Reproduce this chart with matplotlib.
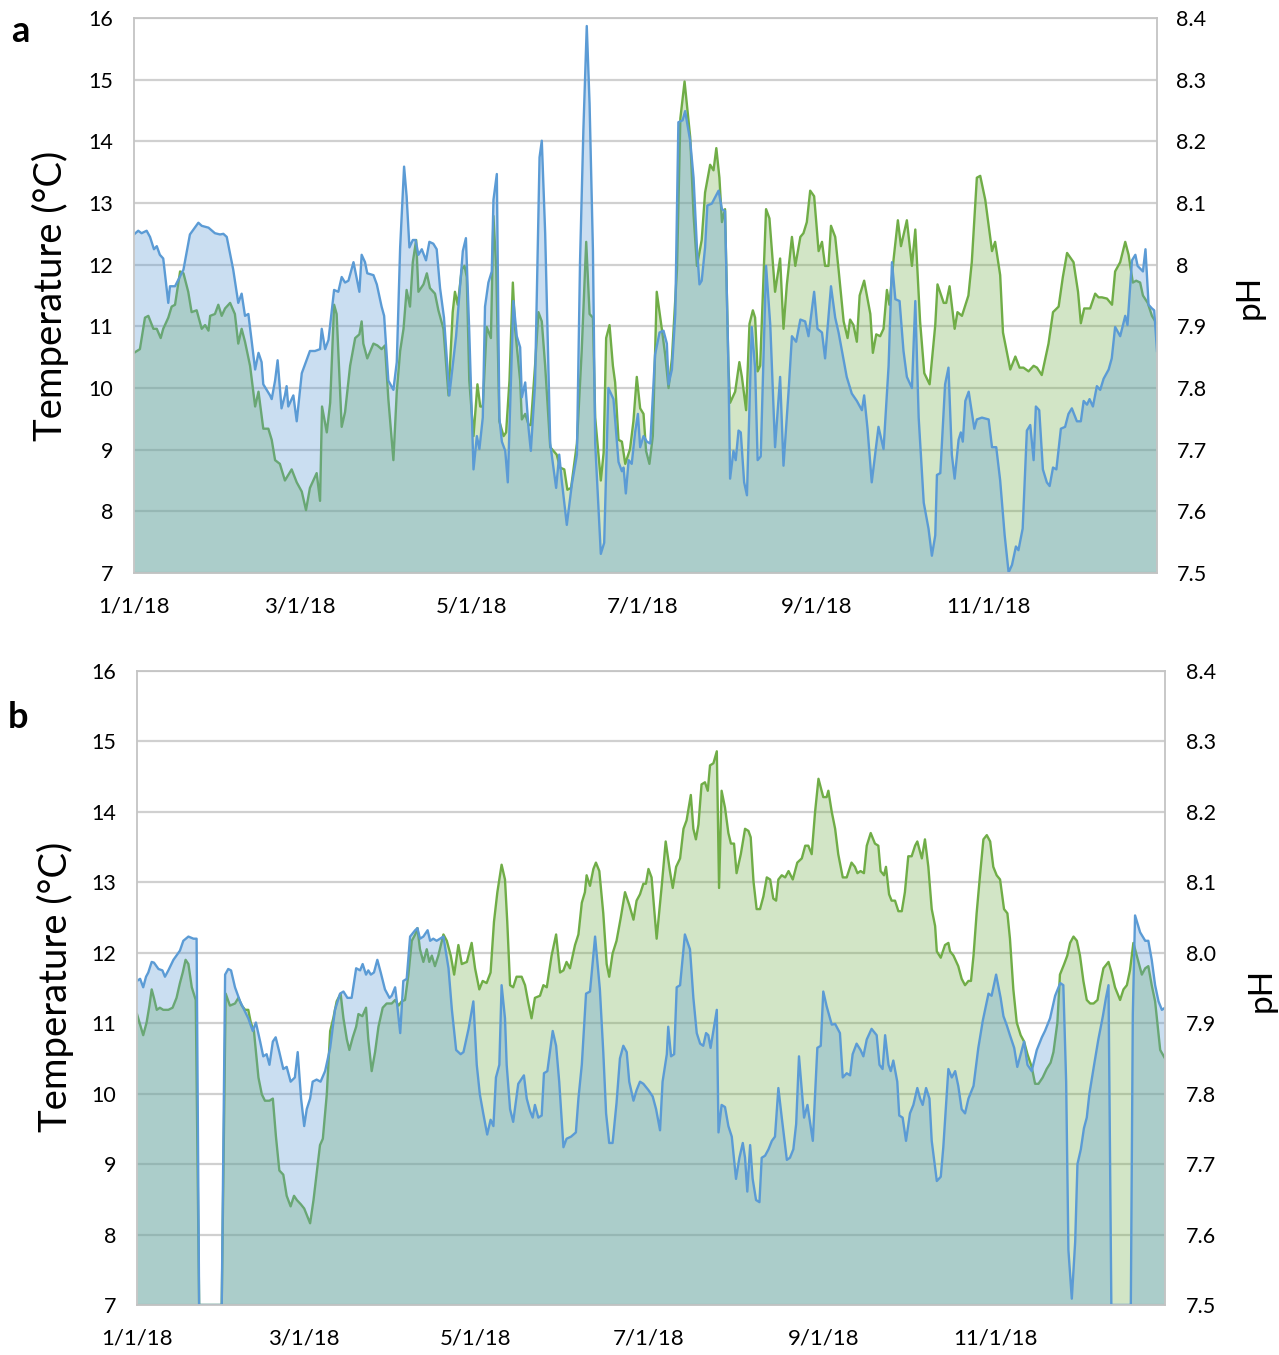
import numpy as np
import matplotlib
matplotlib.use('Agg')
import matplotlib.pyplot as plt

plt.rcParams['font.family'] = ['Lato', 'DejaVu Sans']

BLUE = '#5b9bd5'
GREEN = '#70ad47'

# x axis: day of year 2018
tick_days = [0, 59, 120, 181, 243, 304]
tick_labels = ['1/1/18', '3/1/18', '5/1/18', '7/1/18', '9/1/18', '11/1/18']
temp_ticks = list(range(7, 17))
ph_ticks = [7.5, 7.6, 7.7, 7.8, 7.9, 8.0, 8.1, 8.2, 8.3, 8.4]
ph_labels_a = ['7.5', '7.6', '7.7', '7.8', '7.9', '8', '8.1', '8.2', '8.3', '8.4']
ph_labels_b = ['7.5', '7.6', '7.7', '7.8', '7.9', '8.0', '8.1', '8.2', '8.3', '8.4']

# ---- panel a: temperature ----
a_temp_day = [
    0, 1.5, 2.7, 4.5, 5.7, 7.1, 8.1, 9.2, 10.4, 12.2,
    12.8, 14.6, 17.6, 19.9, 22.9, 24.1, 26.5, 28.8, 30.6, 31.8,
    33, 35.3, 37.1, 38.3, 39.5, 40.7, 43.1, 44.3, 45.4, 46,
    48.4, 49, 50.2, 51.1, 52.5, 53.7, 54.3, 54.9, 56.7, 57.9,
    59.7, 62.6, 64.4, 66.2, 66.8, 68, 69.2, 71.2, 72.7, 73.9,
    75.1, 76.3, 78.1, 80.2, 81, 82.2, 83, 85.2, 86.4, 88.1,
    89, 90.5, 92.3, 93.5, 94.7, 96.1, 97, 98, 99.2, 100.2,
    101.2, 102.4, 103.9, 105.1, 106.5, 107.7, 108.9, 110.3, 112.2, 114.6,
    117, 118.1, 119.3, 120.8, 122, 122.9, 124.1, 124.9, 126.1, 127.3,
    127.9, 129.1, 130, 130.9, 132.1, 133, 134.1, 135, 136.2, 137.4,
    138, 139.2, 140.4, 141.2, 142.7, 144.3, 145.1, 146.3, 148.1, 150.2,
    151.3, 152.2, 154, 155.8, 157.6, 158.7, 159.9, 161.1, 162.1, 163.3,
    164.1, 166.1, 167.3, 168.8, 170.6, 172.4, 173.6, 174.2, 175, 176,
    177.1, 178.3, 179.3, 180.1, 181.3, 182.5, 183.7, 185.4, 187, 188.4,
    189.6, 190.2, 191.4, 192.6, 193.7, 195.2, 196.1, 197.9, 199.1, 200.3,
    201.2, 202, 203.2, 204, 205.6, 208, 209.2, 210.3, 211.5, 212.1,
    213.3, 214.1, 215.1, 215.9, 217.1, 218.1, 219.8, 221, 221.9, 223,
    224.9, 226.4, 228.1, 229.9, 231.1, 232.9, 234.1, 235.6, 237.1, 238.8,
    240, 242, 243.2, 244.8, 245.9, 247.1, 248, 249.5, 250.7, 251.9,
    253.6, 255.4, 257.2, 259, 259.8, 261, 262.5, 264.9, 266.7, 268.5,
    269.7, 270.9, 272.4, 273.8, 275, 276.8, 278, 279.2, 281, 282.7,
    283.9, 285.1, 285.7, 286.9, 288.6, 289.8, 291, 292, 293.4, 294.2,
    294.9, 295.8, 297, 299, 299.9, 301.7, 304.1, 305.3, 306.8, 308.2,
    309.8, 311.2, 312.4, 313.8, 314.7, 316.2, 317.7, 318.9, 320.1, 320.9,
    322.1, 323.4, 324.8, 325.8, 327, 328.2, 329.8, 331.3, 332.5, 333.7,
    335.5, 336.9, 337.9, 339.1, 340, 341.2, 342.6, 343.8, 345, 346.8,
    347.9, 349.1, 350.9, 352.7, 353.5, 355.1, 356.3, 357.1, 359, 359.9,
    361, 362.2, 363, 364,
]
a_temp = [
    12.49, 12.55, 12.51, 12.55, 12.45, 12.25, 12.3, 12.16, 12.1, 11.38,
    11.65, 11.65, 11.92, 12.49, 12.68, 12.63, 12.6, 12.51, 12.49, 12.5,
    12.45, 11.92, 11.38, 11.53, 11.17, 11.2, 10.3, 10.57, 10.42, 10.06,
    9.88, 9.82, 10.12, 10.45, 9.67, 9.88, 10.03, 9.7, 9.88, 9.46,
    10.24, 10.6, 10.6, 10.63, 10.96, 10.63, 10.78, 11.59, 11.56, 11.8,
    11.71, 11.74, 12.04, 11.56, 12.16, 12.04, 11.86, 11.83, 11.68, 11.32,
    11.17, 10.12, 9.97, 10.42, 12.28, 13.59, 13.11, 12.28, 12.4, 12.4,
    12.16, 12.25, 12.07, 12.37, 12.34, 12.25, 11.62, 11.14, 9.88, 10.84,
    12.22, 12.43, 10.9, 8.68, 9.22, 9.01, 9.52, 11.32, 11.71, 11.89,
    13.05, 13.47, 9.52, 9.13, 8.98, 8.47, 10.06, 11.41, 10.84, 10.66,
    9.85, 10.09, 9.34, 8.98, 10.06, 13.74, 14.01, 12.51, 9.1, 8.38,
    8.92, 8.5, 7.78, 8.44, 8.92, 12.04, 14.19, 15.87, 14.61, 12.22,
    9.1, 7.31, 7.49, 10.0, 9.82, 8.8, 8.65, 8.71, 8.29, 8.83,
    8.77, 9.28, 9.58, 9.04, 9.22, 9.13, 9.1, 10.54, 10.9, 10.93,
    10.72, 10.06, 10.3, 11.2, 14.31, 14.34, 14.49, 14.01, 13.41, 12.28,
    11.68, 11.74, 12.28, 12.96, 12.99, 13.2, 12.9, 12.87, 10.36, 8.53,
    8.98, 8.83, 9.31, 9.28, 8.47, 8.26, 10.99, 10.33, 8.83, 8.89,
    11.98, 11.02, 9.04, 10.18, 8.74, 9.94, 10.84, 10.75, 11.11, 11.08,
    10.84, 11.56, 10.96, 10.9, 10.48, 11.14, 11.65, 11.14, 10.9, 10.6,
    10.18, 9.91, 9.79, 9.64, 9.88, 9.34, 8.47, 9.37, 9.01, 10.36,
    12.04, 11.44, 11.41, 10.6, 10.18, 10.0, 11.41, 9.52, 8.14, 7.72,
    7.28, 7.61, 8.59, 8.62, 10.06, 10.33, 8.92, 8.53, 9.16, 9.28,
    9.13, 9.79, 9.94, 9.34, 9.49, 9.52, 9.49, 9.04, 9.04, 8.5,
    7.61, 7.01, 7.13, 7.43, 7.37, 7.72, 9.31, 9.4, 8.83, 9.7,
    9.64, 8.68, 8.47, 8.41, 8.71, 8.68, 9.34, 9.37, 9.58, 9.67,
    9.46, 9.46, 9.79, 9.73, 9.82, 9.7, 10.03, 9.97, 10.15, 10.3,
    10.48, 10.99, 10.84, 11.17, 11.02, 12.07, 12.16, 11.98, 11.89, 12.25,
    11.35, 11.29, 11.26, 10.6,
]

# ---- panel a: pH ----
a_ph_day = [
    0, 2.1, 3.9, 5.1, 6.9, 8.1, 9.5, 10.4, 12.2, 13.4,
    14.6, 16.4, 17.6, 19.3, 20.5, 22.3, 24.1, 25.3, 26.5, 27.1,
    28.8, 30, 31.2, 32.4, 34.2, 35.9, 37.1, 38.3, 39.5, 41.3,
    43.1, 44.3, 46, 47.8, 49, 50.2, 51.9, 53.7, 56.1, 57.9,
    59.7, 61.2, 62.6, 65, 66.2, 66.9, 68.6, 69.8, 71.2, 72.1,
    73.9, 75.1, 76.9, 78.7, 80.2, 81, 81.6, 83, 85.2, 86.6,
    88.1, 89.3, 90.5, 92.3, 93.5, 94.7, 95.9, 97, 98.2, 99.2,
    100.4, 101.2, 103, 104.2, 105.3, 107.1, 108.3, 110.1, 111.9, 113.4,
    114.2, 115.2, 116.6, 117.6, 118.4, 119.3, 120.8, 122.2, 123.2, 124.1,
    125.5, 127, 127.9, 128.9, 130, 131.5, 132.4, 133.6, 134.8, 135.6,
    137.4, 138, 139.2, 140.4, 141.2, 142.7, 143.9, 145.1, 146.3, 148.1,
    150.4, 151.6, 153.1, 154.2, 155.5, 157.6, 159.3, 160.9, 162.1, 163.3,
    164.1, 166.1, 167.1, 168, 169.2, 170.4, 171.2, 172.4, 173.6, 174.8,
    176.5, 177.7, 178.9, 180.1, 181.3, 182.2, 183.4, 184.6, 186, 187.8,
    189, 190.2, 191.4, 193.2, 194.4, 195.9, 197.9, 199.1, 200.3, 202,
    203.2, 205, 206.2, 207.2, 208.3, 209.2, 210.3, 211.5, 212.1, 213.9,
    215.4, 216.3, 217.8, 219, 220.2, 221, 221.9, 222.8, 224.9, 226.1,
    228.1, 229.9, 231.1, 232.3, 234.1, 235.3, 237.1, 238.2, 239.4, 240.6,
    242, 243.6, 244.8, 245.9, 247.1, 248, 249.5, 250.7, 252.5, 253.9,
    254.8, 256, 257.2, 258.2, 259.8, 262, 262.9, 264.1, 265.5, 266.7,
    267.9, 268.8, 270.3, 271.8, 272.9, 275, 276.8, 278, 279.7, 281.2,
    283.1, 285.1, 285.9, 288.1, 289, 290.2, 292, 293, 294.6, 296.9,
    298.1, 299.9, 301.1, 302.9, 305.3, 306.4, 308.2, 309.2, 311.8, 313.6,
    315.1, 316.5, 318.3, 320.1, 321.3, 323, 325.4, 327, 329, 330.5,
    332, 334.3, 335.9, 336.9, 338.1, 340.2, 342, 343.2, 344.4, 346.2,
    348, 349.1, 350.9, 352.7, 353.9, 355.4, 356.6, 358, 359, 360.7,
    362.2, 363.4, 364,
]
a_ph = [
    7.857, 7.863, 7.914, 7.917, 7.896, 7.896, 7.881, 7.896, 7.914, 7.932,
    7.935, 7.989, 7.986, 7.956, 7.923, 7.926, 7.896, 7.902, 7.893, 7.917,
    7.92, 7.935, 7.917, 7.929, 7.938, 7.92, 7.872, 7.896, 7.875, 7.836,
    7.77, 7.794, 7.734, 7.734, 7.716, 7.683, 7.677, 7.65, 7.668, 7.647,
    7.632, 7.602, 7.638, 7.662, 7.617, 7.77, 7.728, 7.776, 7.935, 7.92,
    7.737, 7.761, 7.836, 7.881, 7.887, 7.908, 7.872, 7.848, 7.872, 7.869,
    7.863, 7.869, 7.782, 7.683, 7.794, 7.86, 7.896, 7.959, 7.932, 8.004,
    8.04, 7.956, 7.968, 7.986, 7.962, 7.953, 7.926, 7.896, 7.788, 7.923,
    7.956, 7.935, 7.992, 7.998, 7.98, 7.812, 7.722, 7.806, 7.77, 7.77,
    7.899, 7.881, 8.079, 7.992, 7.746, 7.722, 7.728, 7.812, 7.971, 7.896,
    7.812, 7.749, 7.758, 7.74, 7.74, 7.836, 7.923, 7.908, 7.836, 7.704,
    7.692, 7.671, 7.668, 7.635, 7.638, 7.71, 7.86, 8.037, 7.92, 7.914,
    7.752, 7.65, 7.695, 7.881, 7.902, 7.836, 7.809, 7.716, 7.713, 7.677,
    7.701, 7.746, 7.818, 7.767, 7.758, 7.698, 7.677, 7.722, 7.956, 7.896,
    7.854, 7.8, 7.848, 7.992, 8.237, 8.297, 8.207, 8.081, 7.998, 8.04,
    8.117, 8.162, 8.153, 8.189, 8.141, 8.069, 8.09, 7.836, 7.776, 7.794,
    7.842, 7.818, 7.764, 7.904, 7.926, 7.914, 7.827, 7.836, 8.09, 8.075,
    7.956, 8.01, 7.896, 7.968, 8.045, 7.998, 8.045, 8.051, 8.069, 8.12,
    8.111, 8.022, 8.037, 7.998, 7.998, 8.063, 8.045, 7.992, 7.908, 7.881,
    7.911, 7.902, 7.875, 7.95, 7.974, 7.92, 7.857, 7.887, 7.884, 7.896,
    7.959, 7.935, 8.01, 8.072, 8.03, 8.072, 7.998, 8.057, 7.908, 7.824,
    7.806, 7.902, 7.968, 7.938, 7.938, 7.965, 7.896, 7.923, 7.917, 7.95,
    8.004, 8.141, 8.144, 8.105, 8.022, 8.037, 7.983, 7.89, 7.83, 7.851,
    7.833, 7.833, 7.827, 7.836, 7.833, 7.821, 7.872, 7.923, 7.932, 7.98,
    8.019, 8.004, 7.956, 7.905, 7.929, 7.929, 7.953, 7.947, 7.947, 7.945,
    7.935, 7.989, 8.004, 8.037, 8.016, 7.971, 7.974, 7.971, 7.95, 7.938,
    7.917, 7.908, 7.9,
]

# ---- panel b: temperature (None = no record) ----
b_temp_day = [
    0, 1.1, 2.2, 3.2, 4, 5.2, 6, 7.6, 9, 9.9,
    11.1, 12.9, 15.2, 16.4, 18.2, 20, 21.1, 22, 30, 31.2,
    32.3, 33.3, 34.7, 36.5, 38.3, 39.4, 41, 42.1, 43.6, 44.7,
    45.9, 46.9, 48.1, 49.1, 50.4, 51.8, 53, 54.4, 55.9, 56.9,
    58.1, 59.2, 60.1, 61.3, 62.2, 63.6, 65, 66.6, 68.4, 70.1,
    71.9, 73.1, 74.5, 76, 77.6, 79, 79.9, 81.1, 81.9, 82.8,
    83.9, 85.1, 86.3, 87.8, 89.4, 90.2, 91.4, 92, 93.2, 94.3,
    95.5, 96.7, 98.5, 99.3, 100.2, 101.4, 102.9, 103.8, 104.9, 106.1,
    107.3, 108.5, 110.3, 111.5, 113, 114.6, 115.6, 117.4, 119.1, 120.3,
    121.4, 122.6, 124, 125.2, 126.2, 127.1, 128.3, 129.1, 130.3, 130.9,
    132.1, 133.2, 135, 137, 138, 139.2, 140.1, 140.9, 142.1, 143.3,
    144.1, 145.3, 147.2, 148.4, 149.5, 151, 152.1, 153.7, 155.4, 156.3,
    157.5, 159, 160.4, 162.2, 163.9, 165.1, 166.1, 167.2, 168.4, 169.8,
    171, 172.2, 173.4, 174.3, 175.8, 176.9, 178.1, 179.3, 181.1, 182.6,
    183.8, 185.2, 186.1, 187.6, 188.1, 189.1, 190.2, 191.1, 192.3, 194,
    195.8, 197, 198.2, 199.4, 200.5, 201.5, 202.3, 203.1, 205.3, 205.9,
    207, 208.2, 209.4, 210.6, 212.1, 213.3, 214.5, 215.3, 216.1, 217.1,
    218, 219.2, 220.4, 221.2, 222.4, 223.6, 224.8, 225.9, 227.1, 228.3,
    230.1, 231.2, 232.4, 233.4, 234.4, 236.2, 237.4, 239.3, 240.9, 242.1,
    243, 244.2, 246, 247.2, 248.9, 249.9, 251.3, 252.5, 253.4, 254.8,
    256.2, 257.2, 258.4, 260.1, 261.9, 262.9, 264, 264.9, 266.1, 266.9,
    267.8, 269.2, 269.9, 271.1, 272.3, 273.7, 274.9, 276.3, 277.3, 278.2,
    279.4, 280.6, 281.4, 283.2, 284.6, 285.5, 287.3, 288.5, 289.7, 290.8,
    292, 293.2, 294.4, 296.2, 297.9, 299.5, 301.5, 302.6, 304.2, 305.8,
    306.8, 307.9, 309.1, 310.6, 311.7, 312.7, 314.1, 315.3, 316.8, 318.6,
    320.4, 321.5, 323.3, 325.1, 326.9, 328, 329, 329.8, 331, 332.2,
    333, 334.2, 335.3, 336.3, 337.2, 338.9, 340.4, 342, 343.1, 344,
    345, 351.9, 352.6, 353.4, 355.2, 357, 358.1, 359.3, 360.5, 361.7,
    362.9, 364,
]
b_temp = [
    11.6, 11.63, 11.51, 11.66, 11.72, 11.87, 11.86, 11.77, 11.75, 11.66,
    11.75, 11.9, 12.03, 12.17, 12.23, 12.2, 12.2, None, None, 11.69,
    11.77, 11.75, 11.51, 11.31, 11.16, 11.07, 10.89, 11.01, 10.74, 10.53,
    10.56, 10.41, 10.74, 10.8, 10.59, 10.35, 10.38, 10.17, 10.23, 10.59,
    9.93, 9.54, 9.78, 9.93, 10.17, 10.2, 10.17, 10.32, 10.65, 11.19,
    11.42, 11.45, 11.36, 11.36, 11.78, 11.75, 11.84, 11.69, 11.75, 11.69,
    11.72, 11.9, 11.72, 11.48, 11.36, 11.39, 11.51, 11.31, 10.86, 11.6,
    11.63, 12.23, 12.32, 12.35, 12.2, 12.23, 12.32, 12.17, 12.2, 12.17,
    12.2, 12.23, 11.78, 11.19, 10.62, 10.56, 10.59, 10.92, 11.31, 10.41,
    9.99, 9.72, 9.42, 9.63, 9.54, 10.23, 10.41, 11.54, 11.07, 10.41,
    9.78, 9.6, 10.14, 10.26, 9.93, 9.75, 9.66, 9.84, 9.66, 9.69,
    10.29, 10.32, 10.89, 10.68, 10.17, 9.24, 9.36, 9.39, 9.45, 9.93,
    10.41, 11.42, 11.45, 12.23, 11.48, 10.59, 9.72, 9.3, 9.3, 9.87,
    10.5, 10.68, 10.59, 10.17, 9.9, 10.05, 10.17, 10.14, 10.05, 9.96,
    9.78, 9.48, 10.17, 10.56, 10.95, 10.53, 10.56, 11.51, 11.54, 12.26,
    12.05, 11.36, 10.86, 10.71, 10.68, 10.86, 10.83, 10.65, 11.19, 9.45,
    9.84, 9.81, 9.54, 9.39, 8.79, 9.09, 9.3, 9.09, 8.61, 9.27,
    8.79, 8.49, 8.46, 9.09, 9.12, 9.21, 9.33, 9.39, 10.08, 9.66,
    9.06, 9.09, 9.21, 9.57, 10.53, 9.66, 9.84, 9.33, 10.65, 10.68,
    11.45, 11.24, 10.98, 10.99, 10.86, 10.23, 10.29, 10.26, 10.56, 10.71,
    10.62, 10.53, 10.77, 10.92, 10.83, 10.41, 10.35, 10.83, 10.41, 10.32,
    10.47, 10.17, 9.69, 9.66, 9.33, 9.72, 9.84, 10.08, 9.93, 9.84,
    10.08, 9.93, 9.33, 8.76, 8.82, 9.24, 10.35, 10.23, 10.32, 10.11,
    9.78, 9.72, 9.93, 10.11, 10.65, 11.04, 11.42, 11.39, 11.69, 11.36,
    11.1, 10.98, 10.83, 10.65, 10.38, 10.53, 10.74, 10.41, 10.32, 10.62,
    10.8, 10.89, 11.07, 11.39, 11.57, 11.54, 10.17, 7.78, 7.09, 7.9,
    9.0, 9.21, 9.51, 9.66, 9.99, 10.41, 10.77, 11.1, 11.36, 11.54,
    None, None, 11.13, 12.53, 12.29, 12.17, 12.17, 11.9, 11.54, 11.31,
    11.19, 11.22,
]

# ---- panel b: pH ----
b_ph_day = [
    0, 1.1, 2.2, 3.4, 4.4, 5.2, 6, 7, 8.1, 9.3,
    11.1, 12.6, 14, 15.2, 16.2, 17.2, 18.2, 19.4, 20.8, 22,
    30, 31.4, 32.9, 34.7, 35.9, 37.1, 38.3, 39.4, 40.3, 41.4,
    43, 44.2, 45.3, 46.9, 48.1, 49.2, 50.4, 51.8, 53, 54.4,
    55.6, 56.6, 58, 59.2, 60.1, 61.3, 62.5, 63.9, 64.8, 65.8,
    67.2, 68.4, 69.5, 70.7, 72.1, 73.1, 74.3, 75.2, 76.4, 77.6,
    78.4, 79.8, 81.1, 81.9, 83.1, 84.3, 85.5, 87, 88.4, 90.2,
    91.4, 92.6, 93.7, 94.9, 96.1, 97.3, 98.5, 99.3, 100.2, 101.4,
    102.6, 103.5, 104.4, 105.5, 106.7, 108.5, 109.7, 111.1, 112.3, 113.8,
    115, 116.8, 118.5, 119.7, 121.2, 122.4, 123.8, 125.2, 126.4, 127.6,
    129.1, 130.3, 131.1, 132.1, 133.2, 134.4, 136.2, 137.4, 138.6, 139.7,
    140.9, 142.7, 143.9, 145.1, 146.8, 148.4, 149.8, 151, 152.1, 153.3,
    155.1, 156.3, 157.5, 158.6, 159.2, 160.4, 161.6, 162.5, 163.7, 165.1,
    166.3, 167.2, 168.4, 169.8, 171.3, 172.8, 174.3, 175.8, 176.9, 178.1,
    179.3, 180.2, 181.1, 182.2, 184, 185.8, 187.2, 188.7, 189.7, 190.9,
    192.3, 193.5, 194.6, 196.1, 197, 197.9, 198.8, 199.9, 201.1, 202.1,
    202.9, 204.1, 205.3, 206.1, 207, 208.2, 209.4, 210.3, 211.4, 212.3,
    213.8, 215.3, 216.5, 217.3, 218.3, 219.4, 220.6, 221.8, 223, 224.2,
    225.3, 226.3, 227.1, 228.3, 229.5, 230.7, 232.2, 233.8, 235.4, 236.6,
    237.7, 238.9, 240.1, 241.3, 243, 244.2, 244.8, 246, 247.2, 248.3,
    249.9, 251.3, 253, 254.2, 255.1, 256.2, 257.4, 258.4, 259.8, 261.3,
    262.5, 263.3, 264.5, 265.2, 266.3, 267.2, 268.4, 269.6, 270.8, 271.9,
    273.1, 274.3, 275.5, 276.3, 277.9, 279, 280.2, 281.4, 282.6, 283.2,
    284.6, 286.1, 287.3, 287.9, 289.1, 290.8, 292, 293.2, 294.4, 295.3,
    296.2, 297.3, 298.5, 299.7, 300.9, 302.1, 303.2, 304.4, 305.6, 307,
    308.2, 309.1, 310.3, 311.5, 312.9, 314.1, 315.3, 316.8, 318, 319.2,
    320.7, 322.1, 323.5, 324.5, 325.9, 326.8, 328.3, 329.4, 330.4, 331.6,
    332.8, 333.9, 335.1, 336.3, 337.5, 338.7, 340.1, 341, 342.2, 344,
    345.1, 346.3, 348.1, 349.3, 350.5, 351.6, 352.8, 354, 355.8, 357,
    358.1, 359.3, 360.5, 362.3, 364,
]
b_ph = [
    7.913, 7.898, 7.883, 7.901, 7.925, 7.948, 7.936, 7.919, 7.922, 7.919,
    7.919, 7.922, 7.936, 7.957, 7.972, 7.99, 7.984, 7.951, 7.933, None,
    None, 7.942, 7.925, 7.928, 7.936, 7.925, 7.919, 7.919, 7.901, 7.889,
    7.823, 7.799, 7.79, 7.79, 7.793, 7.739, 7.691, 7.685, 7.655, 7.64,
    7.655, 7.649, 7.643, 7.637, 7.628, 7.616, 7.649, 7.697, 7.727, 7.736,
    7.799, 7.889, 7.907, 7.931, 7.942, 7.907, 7.877, 7.862, 7.88, 7.895,
    7.913, 7.91, 7.922, 7.877, 7.832, 7.859, 7.895, 7.922, 7.928, 7.928,
    7.933, 7.925, 7.931, 7.933, 7.969, 8.017, 8.026, 8.035, 8.005, 7.987,
    8.005, 7.987, 7.996, 7.981, 7.996, 8.026, 8.017, 7.996, 7.969, 8.011,
    7.984, 7.987, 8.014, 7.978, 7.948, 7.96, 7.957, 7.972, 8.044, 8.086,
    8.125, 8.104, 8.044, 7.954, 7.951, 7.966, 7.966, 7.954, 7.928, 7.907,
    7.936, 7.939, 7.954, 7.951, 7.996, 8.026, 7.972, 7.975, 7.987, 7.978,
    8.011, 8.026, 8.071, 8.086, 8.11, 8.095, 8.119, 8.128, 8.116, 8.056,
    7.984, 7.966, 7.999, 8.017, 8.05, 8.086, 8.068, 8.047, 8.074, 8.083,
    8.098, 8.098, 8.119, 8.107, 8.02, 8.095, 8.158, 8.116, 8.092, 8.122,
    8.134, 8.176, 8.188, 8.224, 8.176, 8.161, 8.182, 8.239, 8.242, 8.23,
    8.266, 8.269, 8.286, 8.092, 8.23, 8.206, 8.17, 8.155, 8.155, 8.113,
    8.14, 8.176, 8.173, 8.164, 8.101, 8.062, 8.062, 8.08, 8.107, 8.104,
    8.077, 8.074, 8.104, 8.11, 8.107, 8.116, 8.104, 8.128, 8.134, 8.152,
    8.152, 8.14, 8.2, 8.247, 8.221, 8.221, 8.23, 8.2, 8.176, 8.14,
    8.107, 8.107, 8.128, 8.122, 8.113, 8.116, 8.113, 8.152, 8.17, 8.155,
    8.152, 8.116, 8.11, 8.122, 8.083, 8.074, 8.074, 8.059, 8.059, 8.086,
    8.137, 8.137, 8.152, 8.158, 8.134, 8.161, 8.122, 8.062, 8.038, 8.002,
    7.993, 8.011, 8.014, 8.002, 7.996, 7.981, 7.963, 7.954, 7.96, 7.96,
    7.996, 8.056, 8.11, 8.161, 8.167, 8.158, 8.122, 8.11, 8.104, 8.062,
    8.056, 8.02, 7.948, 7.901, 7.883, 7.874, 7.856, 7.838, 7.814, 7.814,
    7.823, 7.835, 7.844, 7.859, 7.901, 7.969, 7.984, 7.996, 8.014, 8.023,
    8.017, 7.996, 7.96, 7.933, 7.928, 7.928, 7.933, 7.954, 7.978, 7.987,
    7.972, 7.951, 7.933, 7.948, 7.954, 7.975, 8.014, 7.996, 7.969, 7.978,
    7.981, 7.954, 7.931, 7.862, 7.85,
]

T_MIN, T_MAX = 7, 16
PH_MIN, PH_MAX = 7.5, 8.4

fig = plt.figure(figsize=(12.79, 13.55), dpi=100)


def draw_panel(rect, t_day, t_val, p_day, p_val, ph_labels, pads):
    ax = fig.add_axes(rect)
    ax2 = ax.twinx()
    # temperature axes on top so the blue series sits over the green one
    ax.set_zorder(2)
    ax2.set_zorder(1)
    ax.patch.set_visible(False)

    # gaps in the record drop to the axis floor like the logger export does
    t = np.array(t_val, dtype=float)
    t = np.where(np.isnan(t), T_MIN, t)
    p = np.array(p_val, dtype=float)
    p = np.where(np.isnan(p), PH_MIN, p)

    ax2.fill_between(p_day, PH_MIN, p, color=GREEN, alpha=0.31, lw=0)
    ax2.plot(p_day, p, color=GREEN, lw=1.7)
    ax.fill_between(t_day, T_MIN, t, color=BLUE, alpha=0.32, lw=0)
    ax.plot(t_day, t, color=BLUE, lw=1.7)

    ax.set_xlim(0, 364)
    ax.set_ylim(T_MIN, T_MAX)
    ax2.set_ylim(PH_MIN, PH_MAX)

    ax2.set_axisbelow(True)
    ax2.grid(axis='y', color='#d0d0d0', lw=1.6)

    ax.set_yticks(temp_ticks)
    ax.set_yticklabels([str(v) for v in temp_ticks])
    ax2.set_yticks(ph_ticks)
    ax2.set_yticklabels(ph_labels)
    ax.set_xticks(tick_days)
    ax.set_xticklabels(tick_labels)

    ax.tick_params(axis='y', length=0, pad=pads[0], labelsize=15.5)
    ax2.tick_params(axis='y', length=0, pad=pads[1], labelsize=15.5)
    ax.tick_params(axis='x', length=0, pad=pads[2], labelsize=16)

    for sp in ax.spines.values():
        sp.set_color('#c4c4c4')
        sp.set_linewidth(1.3)
    for sp in ax2.spines.values():
        sp.set_visible(False)
    return ax, ax2


W, H = 1279, 1355
draw_panel([134 / W, 1 - 573 / H, (1157 - 134) / W, (573 - 18) / H],
           a_temp_day, a_temp, a_ph_day, a_ph, ph_labels_a, (15, 14, 17))
draw_panel([137 / W, 1 - 1305 / H, (1165 - 137) / W, (1305 - 671) / H],
           b_temp_day, b_temp, b_ph_day, b_ph, ph_labels_b, (15, 15, 17))

fig.text(20 / W, 1 - 32 / H, 'a', fontsize=26, fontweight='bold', ha='center', va='center')
fig.text(18 / W, 1 - 718 / H, 'b', fontsize=26, fontweight='bold', ha='center', va='center')
fig.text(50 / W, 1 - 296 / H, 'Temperature (°C)', rotation=90, fontsize=27.5,
         ha='center', va='center')
fig.text(55 / W, 1 - 987 / H, 'Temperature (°C)', rotation=90, fontsize=27.5,
         ha='center', va='center')
fig.text(1250 / W, 1 - 297 / H, 'pH', rotation=90, fontsize=24, ha='center', va='center')
fig.text(1262 / W, 1 - 990 / H, 'pH', rotation=90, fontsize=24, ha='center', va='center')

fig.savefig('out.png', dpi=100, facecolor='white')
